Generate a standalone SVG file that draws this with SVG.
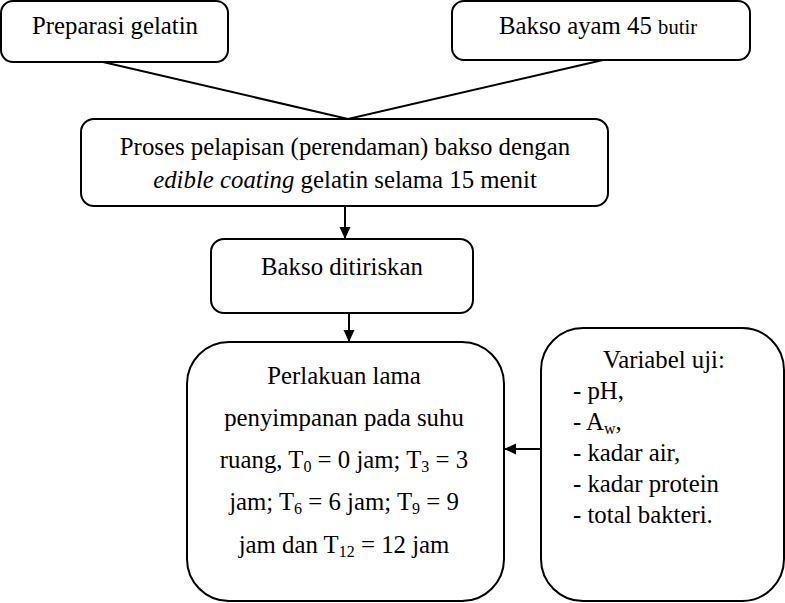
<svg xmlns="http://www.w3.org/2000/svg" width="785" height="603" viewBox="0 0 785 603">
<style>
.box{fill:#fff;stroke:#000;stroke-width:2}
text{font-family:'Liberation Serif',serif;font-size:24.8px;fill:#000}
.m{text-anchor:middle}
.sub{font-size:16px}
.ln{stroke:#000;stroke-width:2;fill:none}
</style>
<defs>
<marker id="ah" markerUnits="userSpaceOnUse" markerWidth="14" markerHeight="12" refX="12" refY="5.5" orient="auto">
<path d="M0,0 L12,5.5 L0,11 Z" fill="#000"/>
</marker>
</defs>
<rect width="785" height="603" fill="#fff"/>
<g id="connectors">
<polyline class="ln" points="103,62 348,119 603,60"/>
<line class="ln" x1="345" y1="206" x2="345" y2="239" marker-end="url(#ah)"/>
<line class="ln" x1="349" y1="313" x2="349" y2="342" marker-end="url(#ah)"/>
<line class="ln" x1="541" y1="449" x2="504" y2="449" marker-end="url(#ah)"/>
</g>
<g id="n1">
<rect class="box" x="1" y="1" width="227" height="61" rx="12"/>
<text class="m" x="115" y="34" font-family="Liberation Serif">Preparasi gelatin</text>
</g>
<g id="n2">
<rect class="box" x="452" y="1" width="298" height="59" rx="12"/>
<text x="499" y="34" font-family="Liberation Serif">Bakso ayam 45 <tspan font-size="20.6">butir</tspan></text>
</g>
<g id="n3">
<rect class="box" x="81" y="119" width="527" height="87" rx="13"/>
<text class="m" x="345" y="155" font-family="Liberation Serif">Proses pelapisan (perendaman) bakso dengan</text>
<text class="m" x="345" y="188" font-family="Liberation Serif"><tspan font-style="italic">edible coating</tspan> gelatin selama 15 menit</text>
</g>
<g id="n4">
<rect class="box" x="211" y="239" width="262" height="74" rx="13"/>
<text class="m" x="342" y="275" font-family="Liberation Serif">Bakso ditiriskan</text>
</g>
<g id="n5" font-family="Liberation Serif">
<rect class="box" x="187" y="342" width="317" height="259" rx="42"/>
<text class="m" x="344" y="384">Perlakuan lama</text>
<text class="m" x="344" y="426">penyimpanan pada suhu</text>
<text class="m" x="344" y="468">ruang, T<tspan class="sub" dy="4">0</tspan><tspan dy="-4"> = 0 jam; T</tspan><tspan class="sub" dy="4">3</tspan><tspan dy="-4"> = 3</tspan></text>
<text class="m" x="344" y="510">jam; T<tspan class="sub" dy="4">6</tspan><tspan dy="-4"> = 6 jam; T</tspan><tspan class="sub" dy="4">9</tspan><tspan dy="-4"> = 9</tspan></text>
<text class="m" x="344" y="553">jam dan T<tspan class="sub" dy="4">12</tspan><tspan dy="-4"> = 12 jam</tspan></text>
</g>
<g id="n6">
<rect class="box" x="541" y="328" width="243" height="273" rx="42"/>
<text x="603" y="368">Variabel uji:</text>
<text x="573" y="399">- pH,</text>
<text x="573" y="430">- A<tspan class="sub" dy="4">w</tspan><tspan dy="-4">,</tspan></text>
<text x="573" y="461">- kadar air,</text>
<text x="573" y="492">- kadar protein</text>
<text x="573" y="523">- total bakteri.</text>
</g>
</svg>
